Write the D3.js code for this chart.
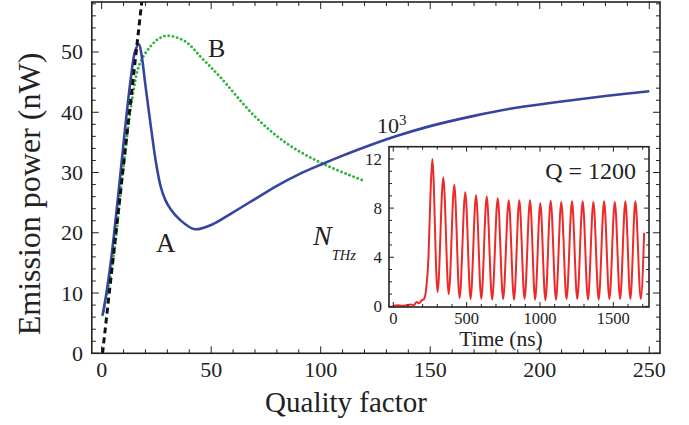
<!DOCTYPE html>
<html>
<head>
<meta charset="utf-8">
<script src="https://cdn.jsdelivr.net/npm/d3@7"></script>
<style>
  body { margin: 0; background: #fff; }
  svg text { font-family: "Liberation Serif", "DejaVu Serif", serif; fill: #222; }
</style>
</head>
<body>
<svg id="chart" width="689" height="425"></svg>
<script>
// main curves: [quality factor, emission power nW]
const curveA = [[0.45,6.35],[2,9.6],[4.1,14.9],[7.5,26],[10.6,37],[13.2,45.3],[15.3,50.2],[17,51.3],[18.3,49.3],[19.7,45.3],[22.7,37],[25,31.2],[27,27.6],[29,25.5],[31.5,23.9],[35.6,22.2],[42.4,20.6],[50,21.3],[60,23.4],[70,25.6],[80,27.8],[90,29.7],[100,31.3],[110,32.8],[120,34.2],[135,36.1],[150,37.7],[170,39.4],[190,40.8],[210,41.8],[230,42.7],[250,43.5]];
const curveB = [[0.45,6.35],[5,14.9],[10.1,31.5],[14.1,42.6],[17.4,48.1],[22,50.8],[26,52.2],[30,52.7],[38,51.8],[46,48.9],[54,45.9],[70,39.3],[85,34.7],[102,31.3],[120,28.6]];
const linearFit = [[0.4,0],[18.3,58.3]];

// inset: time (ns) vs N_THz (x10^3)
const insetTime = [0,30,60,90,120,140,160,175,195,210,225,240,252,266,302,341,378,416,452,491,527,564,600,637,674,712,749,787,823,859,895,932,967,1002,1037,1073,1109,1145,1181,1218,1254,1291,1327,1364,1400,1437,1473,1510,1546,1582,1616,1650,1687,1710];
const insetN = [0.05,0.1,0.05,0.1,0.15,0.1,0.35,0.25,0.5,0.6,1.5,4,8.5,12,1.17,10.5,1.0,9.9,0.68,9.3,0.6,9.05,0.6,8.95,0.55,8.8,0.6,8.65,0.55,8.65,0.6,8.65,0.55,8.4,0.5,8.6,0.55,8.5,0.6,8.55,0.6,8.55,0.55,8.5,0.55,8.55,0.6,8.5,0.6,8.55,0.6,8.55,0.6,6.0];

const mainXTicks = [0, 50, 100, 150, 200, 250];
const mainYTicks = [0, 10, 20, 30, 40, 50];
const insetXTicks = [0, 500, 1000, 1500];
const insetYTicks = [0, 4, 8, 12];

const svg = d3.select("#chart");

const x = d3.scaleLinear().domain([-4.5, 254.9]).range([91.8, 660]);
const y = d3.scaleLinear().domain([0, 58.3]).range([353.3, 2]);

const ix = d3.scaleLinear().domain([-29, 1743]).range([389, 649]);
const iy = d3.scaleLinear().domain([-0.05, 13]).range([307, 146.7]);

svg.append("defs").append("clipPath").attr("id", "clipMain")
  .append("rect").attr("x", 91.8).attr("y", 2).attr("width", 660 - 91.8).attr("height", 353.3 - 2);
svg.append("defs").append("clipPath").attr("id", "clipInset")
  .append("rect").attr("x", 389).attr("y", 146.7).attr("width", 260).attr("height", 160.3);

// frame ticks all round, pointing inward (Mathematica style)
function frameTicks(g, xs, ys, xMajor, xMinor, yMajor, yMinor, bigLen, smallLen) {
  const [x0, x1] = xs.range(), [y0, y1] = ys.range();
  const xd = xs.domain(), yd = ys.domain();
  const isMaj = (v, step) => Math.abs(v / step - Math.round(v / step)) < 1e-6;
  d3.range(Math.ceil(xd[0] / xMinor) * xMinor, xd[1] + 1e-9, xMinor).forEach(v => {
    const len = isMaj(v, xMajor) ? bigLen : smallLen;
    g.append("line").attr("x1", xs(v)).attr("x2", xs(v)).attr("y1", y0).attr("y2", y0 - len);
    g.append("line").attr("x1", xs(v)).attr("x2", xs(v)).attr("y1", y1).attr("y2", y1 + len);
  });
  d3.range(Math.ceil(yd[0] / yMinor) * yMinor, yd[1] + 1e-9, yMinor).forEach(v => {
    const len = isMaj(v, yMajor) ? bigLen : smallLen;
    g.append("line").attr("y1", ys(v)).attr("y2", ys(v)).attr("x1", x0).attr("x2", x0 + len);
    g.append("line").attr("y1", ys(v)).attr("y2", ys(v)).attr("x1", x1).attr("x2", x1 - len);
  });
  g.append("rect").attr("x", x0).attr("y", y1).attr("width", x1 - x0).attr("height", y0 - y1)
    .attr("fill", "none").attr("stroke-width", 1.6);
  g.selectAll("line").attr("stroke-width", 1);
  g.attr("stroke", "#222");
}

const lineMain = d3.line().x(d => x(d[0])).y(d => y(d[1])).curve(d3.curveCatmullRom.alpha(0.5));

const plot = svg.append("g").attr("clip-path", "url(#clipMain)");
plot.append("path").datum(curveB).attr("d", lineMain)
  .attr("fill", "none").attr("stroke", "#2db53a").attr("stroke-width", 2.8)
  .attr("stroke-dasharray", "0.1,4.2").attr("stroke-linecap", "round");
plot.append("path").datum(curveA).attr("d", lineMain)
  .attr("fill", "none").attr("stroke", "#3444a0").attr("stroke-width", 2.6);
plot.append("path").datum(linearFit).attr("d", d3.line().x(d => x(d[0])).y(d => y(d[1])))
  .attr("fill", "none").attr("stroke", "#111").attr("stroke-width", 3).attr("stroke-dasharray", "6,4");

frameTicks(svg.append("g"), x, y, 50, 10, 10, 2, 7, 4);

svg.append("g").selectAll("text").data(mainXTicks).join("text")
  .attr("x", d => x(d)).attr("y", 376.5).attr("text-anchor", "middle")
  .style("font-size", "22px").text(d => d);
svg.append("g").selectAll("text").data(mainYTicks).join("text")
  .attr("x", 83).attr("y", d => y(d)).attr("dy", "0.34em").attr("text-anchor", "end")
  .style("font-size", "22px").text(d => d);

svg.append("text").attr("x", 346).attr("y", 411.5).attr("text-anchor", "middle")
  .style("font-size", "29px").text("Quality factor");
svg.append("text").attr("transform", "translate(40,194) rotate(-90)").attr("text-anchor", "middle")
  .style("font-size", "32px").text("Emission power (nW)");

svg.append("text").attr("x", 208).attr("y", 56.5).style("font-size", "26px").text("B");
svg.append("text").attr("x", 156).attr("y", 251.5).style("font-size", "27px").text("A");

// inset
const inset = svg.append("g");
inset.append("rect").attr("x", 389).attr("y", 146.7).attr("width", 260).attr("height", 160.3).attr("fill", "#fff");
inset.append("g").attr("clip-path", "url(#clipInset)").append("path")
  .datum(insetTime.map((t, i) => [t, insetN[i]]))
  .attr("d", d3.line().x(d => ix(d[0])).y(d => iy(d[1])).curve(d3.curveMonotoneX))
  .attr("fill", "none").attr("stroke", "#ec2a2a").attr("stroke-width", 2);
frameTicks(inset.append("g"), ix, iy, 500, 100, 4, 1, 5, 3);

inset.append("g").selectAll("text").data(insetXTicks).join("text")
  .attr("x", d => ix(d)).attr("y", 323.5).attr("text-anchor", "middle")
  .style("font-size", "16.5px").text(d => d);
inset.append("g").selectAll("text").data(insetYTicks).join("text")
  .attr("x", 382).attr("y", d => iy(d)).attr("dy", "0.34em").attr("text-anchor", "end")
  .style("font-size", "17px").text(d => d);
inset.append("text").attr("x", 501).attr("y", 346).attr("text-anchor", "middle")
  .style("font-size", "21.5px").text("Time (ns)");
inset.append("text").attr("x", 636).attr("y", 178.5).attr("text-anchor", "end")
  .style("font-size", "24px").text("Q = 1200");

const pow = svg.append("text").attr("x", 377).attr("y", 133.3).style("font-size", "22px");
pow.append("tspan").text("10");
pow.append("tspan").attr("dy", -8).style("font-size", "15px").text("3");

const nl = svg.append("text").attr("x", 313).attr("y", 245).style("font-style", "italic").style("font-size", "28px");
nl.append("tspan").text("N");
nl.append("tspan").attr("dy", 15).style("font-size", "14.5px").text("THz");
</script>
</body>
</html>
